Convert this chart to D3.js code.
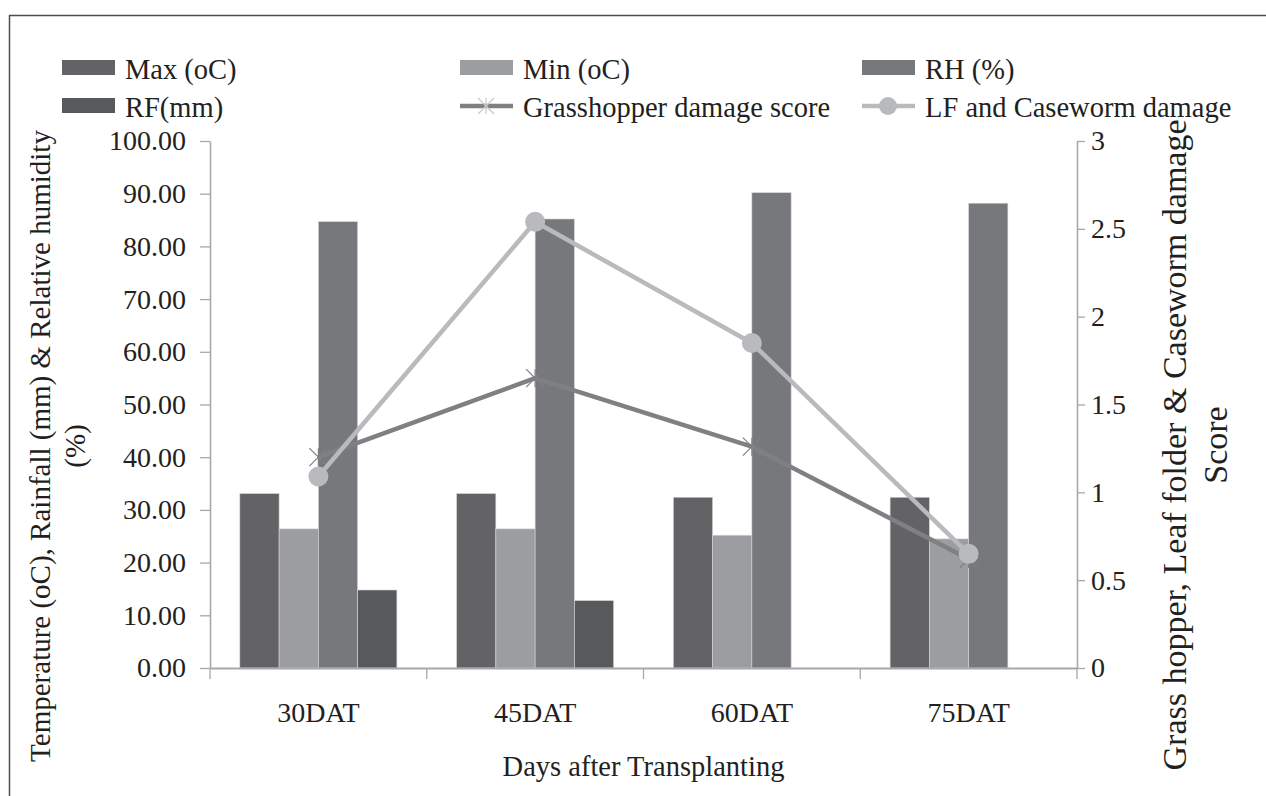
<!DOCTYPE html>
<html>
<head>
  <meta charset="UTF-8">
  <style>
    body { margin: 0; background: #fff; }
  </style>
</head>
<body>
<div id="chart_div"></div>

<script src="https://d3js.org/d3.v7.min.js"></script>
<script>

let width = 1266, height = 796;
const serif = '"Liberation Serif", "Times New Roman", serif';

// Data
const categories = ["30DAT", "45DAT", "60DAT", "75DAT"];
const maxTemp = [33.1, 33.1, 32.4, 32.4];
const minTemp = [26.4, 26.4, 25.2, 24.5];
const relHumidity = [84.7, 85.2, 90.2, 88.2];
const rainfall = [14.8, 12.8, 0, 0];
const grasshopperScore = [1.2, 1.65, 1.26, 0.62];
const lfCasewormScore = [1.09, 2.54, 1.85, 0.65];
const leftTicks = [0, 10, 20, 30, 40, 50, 60, 70, 80, 90, 100];
const rightTicks = [0, 0.5, 1, 1.5, 2, 2.5, 3];

const barSeries = [
  { name: "Max (oC)", values: maxTemp, color: "#636365" },
  { name: "Min (oC)", values: minTemp, color: "#9c9da0" },
  { name: "RH (%)", values: relHumidity, color: "#77787c" },
  { name: "RF(mm)", values: rainfall, color: "#58595b" }
];
const lineSeries = [
  { name: "Grasshopper damage score", values: grasshopperScore, color: "#7f8083", marker: "star" },
  { name: "LF and Caseworm damage", values: lfCasewormScore, color: "#b9babd", marker: "circle" }
];

const margin = { left: 210, right: 1077, top: 141, bottom: 668 };
const axisColor = "#a7a8aa";

let svg = d3.select("#chart_div")
  .append("svg")
  .attr("width", width)
  .attr("height", height)
  .style("font-family", serif);

svg.append("rect")
  .attr("width", width)
  .attr("height", height)
  .attr("fill", "white");

// frame round the figure
svg.append("rect")
  .attr("x", 9.5)
  .attr("y", 15.5)
  .attr("width", width + 20)
  .attr("height", height + 20)
  .attr("fill", "none")
  .attr("stroke", "#4d4d4f")
  .attr("stroke-width", 1.5);

// scales
let x0 = d3.scaleBand()
  .domain(categories)
  .range([margin.left, margin.right])
  .padding(0);
let x1 = d3.scaleBand()
  .domain(barSeries.map(s => s.name))
  .range([0, x0.bandwidth()])
  .paddingInner(0)
  .paddingOuter(0.76);
let yLeft = d3.scaleLinear().domain([0, 100]).range([margin.bottom, margin.top]);
let yRight = d3.scaleLinear().domain([0, 3]).range([margin.bottom, margin.top]);

// bars
barSeries.forEach(s => {
  svg.append("g")
    .selectAll("rect")
    .data(s.values)
    .enter()
    .append("rect")
    .attr("x", (d, i) => x0(categories[i]) + x1(s.name))
    .attr("y", d => yLeft(d))
    .attr("width", x1.bandwidth())
    .attr("height", d => yLeft(0) - yLeft(d))
    .attr("fill", s.color)
    .attr("stroke", d => d > 0 ? "#d8d8da" : "none")
    .attr("stroke-width", 0.6);
});

// axes
let leftAxis = svg.append("g")
  .attr("transform", "translate(" + margin.left + ",0)")
  .call(d3.axisLeft(yLeft).tickValues(leftTicks).tickFormat(d3.format(".2f")).tickSize(10).tickSizeOuter(0).tickPadding(14));
let rightAxis = svg.append("g")
  .attr("transform", "translate(" + margin.right + ",0)")
  .call(d3.axisRight(yRight).tickValues(rightTicks).tickFormat(d => d).tickSize(8).tickSizeOuter(0).tickPadding(6));
let bottomAxis = svg.append("g")
  .attr("transform", "translate(0," + margin.bottom + ")")
  .call(d3.axisBottom(x0).tickSize(0).tickSizeOuter(0).tickPadding(34));

// x ticks sit on the category boundaries
bottomAxis.selectAll("line.bound")
  .data(categories.map(c => x0(c)).concat([margin.right]))
  .enter()
  .append("line")
  .attr("class", "bound")
  .attr("x1", d => d).attr("x2", d => d)
  .attr("y1", 0).attr("y2", 11);

[leftAxis, rightAxis, bottomAxis].forEach(a => {
  a.attr("font-family", serif);
  a.selectAll("path").attr("stroke", axisColor).attr("stroke-width", 1.6);
  a.selectAll("line").attr("stroke", axisColor).attr("stroke-width", 1.3);
  a.selectAll("text")
    .style("font-family", serif)
    .style("font-size", "28px")
    .attr("fill", "#231f20");
});
bottomAxis.select("path").attr("stroke-width", 2.2);

// lines
const star = (g, cx, cy, r, color) => {
  [[-r, -r, r, r], [-r, r, r, -r], [0, -r, 0, r]].forEach(p => {
    g.append("line")
      .attr("x1", cx + p[0]).attr("y1", cy + p[1])
      .attr("x2", cx + p[2]).attr("y2", cy + p[3])
      .attr("stroke", color)
      .attr("stroke-width", 1.2);
  });
};

let lineGen = d3.line()
  .x((d, i) => x0(categories[i]) + x0.bandwidth() / 2)
  .y(d => yRight(d));

lineSeries.forEach(s => {
  let g = svg.append("g");
  g.append("path")
    .datum(s.values)
    .attr("d", lineGen)
    .attr("fill", "none")
    .attr("stroke", s.color)
    .attr("stroke-width", 4.5)
    .attr("stroke-linejoin", "round");
  s.values.forEach((v, i) => {
    let cx = x0(categories[i]) + x0.bandwidth() / 2, cy = yRight(v);
    if (s.marker === "circle") {
      g.append("circle").attr("cx", cx).attr("cy", cy).attr("r", 10).attr("fill", s.color);
    } else {
      star(g, cx, cy, 9, s.color);
    }
  });
});

// legend
const legendItems = [
  { item: barSeries[0], x: 62, y: 60 },
  { item: barSeries[1], x: 460, y: 60 },
  { item: barSeries[2], x: 862, y: 60 },
  { item: barSeries[3], x: 62, y: 98 },
  { item: lineSeries[0], x: 460, y: 98 },
  { item: lineSeries[1], x: 862, y: 98 }
];
let legend = svg.append("g");
legendItems.forEach(l => {
  let s = l.item;
  if (s.marker) {
    legend.append("line")
      .attr("x1", l.x).attr("x2", l.x + 53)
      .attr("y1", l.y + 8).attr("y2", l.y + 8)
      .attr("stroke", s.color).attr("stroke-width", 4.5);
    if (s.marker === "circle") {
      legend.append("circle").attr("cx", l.x + 26).attr("cy", l.y + 8).attr("r", 9).attr("fill", s.color);
    } else {
      star(legend, l.x + 26, l.y + 8, 8, "#c9cacc");
    }
  } else {
    legend.append("rect")
      .attr("x", l.x).attr("y", l.y)
      .attr("width", 53).attr("height", 15)
      .attr("fill", s.color);
  }
  legend.append("text")
    .attr("x", l.x + 63)
    .attr("y", l.y + 19)
    .style("font-family", serif)
    .style("font-size", "28.5px")
    .attr("fill", "#231f20")
    .text(s.name);
});

// axis titles
const title = (x, y, rotate, size, label) => {
  svg.append("text")
    .attr("transform", "translate(" + x + "," + y + ")" + (rotate ? " rotate(-90)" : ""))
    .attr("text-anchor", "middle")
    .attr("dy", rotate ? "0.35em" : 0)
    .style("font-family", serif)
    .style("font-size", size + "px")
    .attr("fill", "#231f20")
    .text(label);
};
title(40, 446, true, 29, "Temperature (oC), Rainfall (mm) & Relative humidity");
title(75, 446, true, 29, "(%)");
title(1174, 445, true, 34, "Grass hopper, Leaf folder & Caseworm damage");
title(1215, 445, true, 34, "Score");
title((margin.left + margin.right) / 2, 776, false, 28.5, "Days after Transplanting");

</script>

</body>
</html>
